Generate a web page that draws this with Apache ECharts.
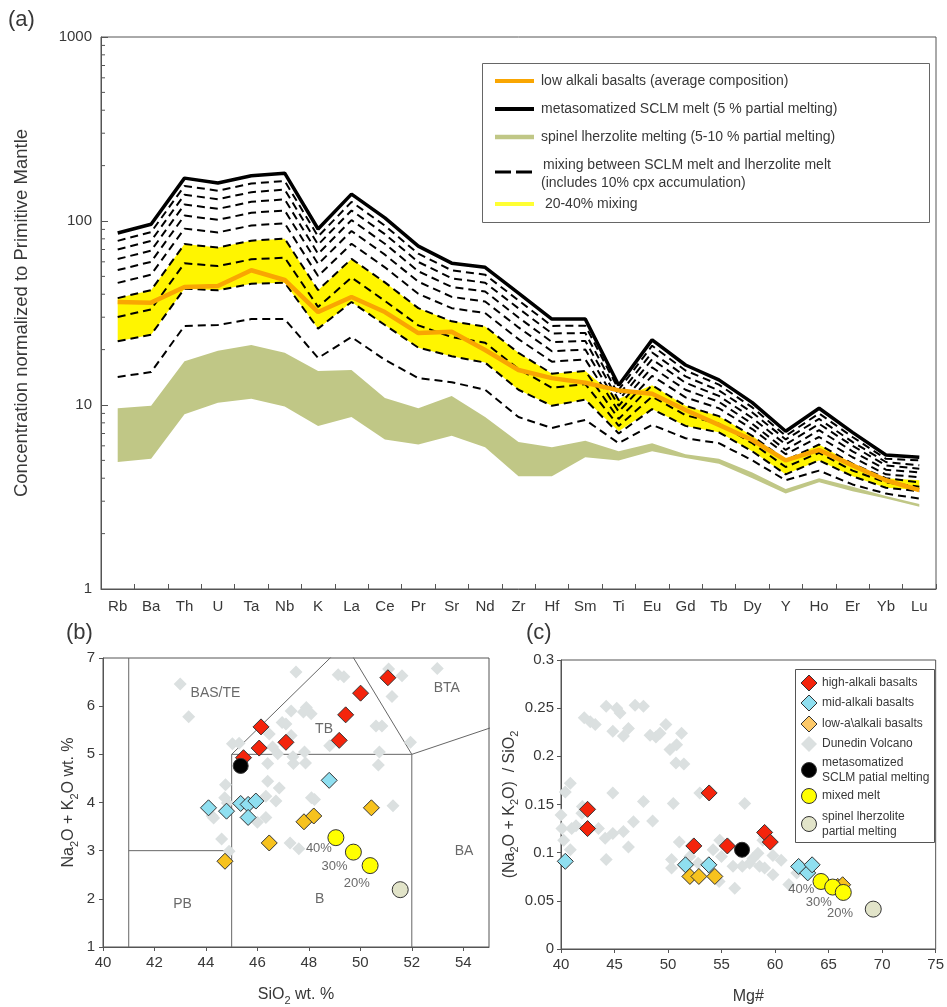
<!DOCTYPE html>
<html>
<head>
<meta charset="utf-8">
<script src="https://cdn.jsdelivr.net/npm/echarts@6/dist/echarts.min.js"></script>
<style>
  html, body { margin: 0; padding: 0; background: #fff; }
  #chart { width: 947px; height: 1007px; }
</style>
</head>
<body>
<div id="chart"></div>
<script>
// ---------- (a) spider diagram, normalized to primitive mantle ----------
const elements = ['Rb','Ba','Th','U','Ta','Nb','K','La','Ce','Pr','Sr','Nd','Zr','Hf','Sm','Ti','Eu','Gd','Tb','Dy','Y','Ho','Er','Yb','Lu'];

const sclmMelt      = [86, 96, 171, 161, 176, 182, 90.5, 140, 104, 73, 59, 56, 40.6, 29.3, 29.3, 12.8, 22.6, 16.5, 13.7, 10.3, 7.2, 9.6, 7.1, 5.35, 5.2];
const lowAlkaliAvg  = [36.3, 36, 43.8, 44.3, 54, 47.8, 32, 38.6, 32, 24.6, 25, 19.9, 15.5, 14, 13.2, 12.0, 11.5, 9.4, 7.8, 6.45, 5.0, 5.7, 4.7, 3.9, 3.45];
const lherzoliteMax = [9.6, 9.9, 17.3, 19.7, 21.2, 19.2, 15.3, 15.5, 10.9, 9.6, 11.2, 8.6, 6.3, 5.9, 6.4, 5.6, 6.2, 5.4, 5.1, 4.3, 3.5, 4.0, 3.6, 3.2, 2.9];
const lherzoliteMin = [4.9, 5.1, 8.9, 10.3, 10.8, 9.8, 7.7, 8.6, 6.5, 6.1, 6.8, 5.9, 4.1, 4.1, 5.2, 5.0, 5.6, 5.15, 4.8, 4.0, 3.3, 3.8, 3.4, 3.1, 2.8];
const mixingBandLow  = [22.2, 24.1, 42.9, 42.0, 45.6, 46.2, 26.0, 36.3, 27.2, 20.5, 18.4, 17.0, 12.1, 9.9, 10.7, 7.2, 9.5, 7.7, 7.1, 5.6, 4.2, 5.0, 4.1, 3.55, 3.45];
const mixingBandHigh = [38.1, 42.1, 74.9, 71.8, 78.2, 80.2, 42.1, 62.2, 46.4, 33.6, 28.5, 26.7, 19.2, 14.8, 15.3, 10.8, 12.8, 9.9, 8.7, 6.8, 5.0, 6.1, 4.8, 4.0, 3.9];

// mixing curves, labelled by the share of SCLM melt
const mix10 = [14.2, 15.1, 26.9, 27.2, 29.3, 29.3, 18.0, 23.4, 17.6, 14.0, 13.3, 12.1, 8.6, 7.5, 8.3, 6.2, 7.8, 6.6, 6.2, 5.0, 3.9, 4.4, 3.7, 3.3, 3.1];
const mix20 = [22.2, 24.1, 42.9, 42.0, 45.6, 46.2, 26.0, 36.3, 27.2, 20.5, 18.4, 17.0, 12.1, 9.9, 10.7, 7.0, 9.5, 7.7, 7.1, 5.6, 4.2, 5.0, 4.1, 3.55, 3.4];
const mix30 = [30.1, 33.1, 58.9, 56.9, 61.9, 63.2, 34.1, 49.3, 36.8, 27.1, 23.4, 21.8, 15.7, 12.4, 13.0, 7.7, 11.1, 8.8, 7.9, 6.2, 4.6, 5.5, 4.4, 3.8, 3.6];
const mix40 = [38.1, 42.1, 74.9, 71.8, 78.2, 80.2, 42.1, 62.2, 46.4, 33.6, 28.5, 26.7, 19.2, 14.8, 15.3, 8.4, 12.8, 9.9, 8.7, 6.8, 5.0, 6.1, 4.8, 4.0, 3.8];
const mix50 = [46.1, 51.1, 90.9, 86.7, 94.5, 97.2, 50.2, 75.2, 56.0, 40.2, 33.6, 31.6, 22.8, 17.2, 17.7, 9.2, 14.4, 11.0, 9.6, 7.4, 5.4, 6.7, 5.2, 4.2, 4.05];
const mix60 = [54.1, 60.0, 107, 101.5, 110.8, 114.1, 58.3, 88.2, 65.6, 46.8, 38.7, 36.5, 26.4, 19.6, 20.0, 9.9, 16.0, 12.1, 10.4, 7.9, 5.7, 7.3, 5.6, 4.45, 4.3];
const mix70 = [62.1, 69.0, 123, 116.4, 127.1, 131.1, 66.3, 101.1, 75.2, 53.3, 43.8, 41.4, 29.9, 22.0, 22.3, 10.6, 17.7, 13.2, 11.2, 8.5, 6.1, 7.9, 6.0, 4.7, 4.5];
const mix80 = [70.0, 78.0, 139, 131.3, 143.4, 148.1, 74.4, 114.1, 84.8, 59.9, 48.8, 46.2, 33.5, 24.5, 24.6, 11.3, 19.3, 14.3, 12.0, 9.1, 6.5, 8.4, 6.3, 4.9, 4.7];
const mix90 = [78.0, 87.0, 155, 146.1, 159.7, 165, 82.4, 127, 94.4, 66.4, 53.9, 51.1, 37.0, 26.9, 27.0, 12.1, 21.0, 15.4, 12.9, 9.7, 6.8, 9.0, 6.7, 5.1, 5.0];
const mixingCurves = [mix10, mix20, mix30, mix40, mix50, mix60, mix70, mix80, mix90];

const logMinorTicks = [2,3,4,5,6,7,8,9, 20,30,40,50,60,70,80,90, 200,300,400,500,600,700,800,900];

// ---------- (b) TAS diagram: [SiO2, Na2O+K2O] ----------
const tasHighAlkali = [[45.46,4.93],[46.14,5.57],[46.07,5.13],[47.11,5.25],[49.18,5.29],[49.43,5.82],[50.01,6.27],[51.07,6.59]];
const tasMidAlkali  = [[44.10,3.89],[44.80,3.82],[45.35,3.98],[45.64,3.96],[45.94,4.03],[45.64,3.69],[48.79,4.46]];
const tasLowAlkali  = [[44.74,2.78],[46.46,3.16],[47.81,3.60],[48.19,3.72],[50.43,3.89]];
const tasDunedin = [[43.0,6.46],[43.33,5.78],[45.29,5.23],[44.76,4.37],[44.73,4.10],[44.24,3.72],[44.61,3.24],[44.9,2.99],
  [47.5,6.71],[49.14,6.65],[49.36,6.61],[51.1,6.77],[51.62,6.63],[52.99,6.78],[51.23,6.2],[51.95,5.25],[47.31,5.9],[47.9,5.97],
  [48.09,5.84],[46.96,5.66],[47.11,5.63],[47.31,5.39],[46.46,5.42],[46.79,5.01],[46.4,4.81],[46.4,4.44],[46.85,4.3],[46.33,4.13],
  [46.72,4.03],[46.0,3.59],[46.33,3.69],[47.4,4.81],[47.83,5.05],[47.87,4.82],[48.22,4.06],[47.27,3.16],[47.61,3.04],[48.81,5.18],
  [50.61,5.59],[50.84,5.59],[50.74,5.05],[50.7,4.78],[51.27,3.93],[47.79,5.88],[46.59,5.15],[47.38,4.95],[45.03,5.22],[44.83,3.99],
  [44.3,3.68],[48.1,4.1]];
const tasSclmMelt   = [[45.35,4.76]];
const tasMixedMelt  = [[49.05,3.27],[49.73,2.97],[50.38,2.69]];
const tasLherzolite = [[51.55,2.19]];
const tasMixLabels  = [[48.39,3.04,'40%'],[49.0,2.67,'30%'],[49.86,2.31,'20%']];
const tasFieldLabels = [[44.37,6.27,'BAS/TE'],[48.59,5.52,'TB'],[53.36,6.37,'BTA'],[54.03,3.0,'BA'],[48.42,2.0,'B'],[43.09,1.9,'PB']];
const tasBoundaries = [
  [[41,1],[41,7]], [[41,3],[45,3]], [[45,1],[45,5]], [[45,5],[52,5]], [[52,1],[52,5]],
  [[45,5],[49.4,7.3]], [[52,5],[49.4,7.3]], [[52,5],[57,5.9]]
];

// ---------- (c) alkali/silica ratio vs Mg# ----------
const mgHighAlkali = [[42.48,0.145],[42.48,0.125],[52.41,0.107],[53.84,0.162],[55.54,0.107],[59.02,0.121],[59.55,0.111]];
const mgMidAlkali  = [[40.4,0.091],[51.63,0.0874],[53.81,0.0874],[62.2,0.0857],[63.05,0.079],[63.46,0.0874]];
const mgLowAlkali  = [[52.04,0.0753],[52.88,0.0753],[54.37,0.0753],[65.85,0.065],[66.31,0.0667]];
const mgDunedin = [[40.0,0.139],[40.09,0.125],[40.25,0.113],[40.87,0.103],[40.4,0.163],[40.87,0.172],[41.0,0.125],[41.95,0.141],
  [42.17,0.240],[42.73,0.236],[43.2,0.233],[44.22,0.252],[45.21,0.250],[45.52,0.245],[44.84,0.226],[45.83,0.221],[46.3,0.229],
  [46.92,0.253],[47.7,0.252],[48.32,0.222],[48.87,0.220],[49.25,0.224],[49.8,0.233],[50.18,0.207],[50.8,0.212],[51.26,0.224],
  [50.74,0.193],[51.48,0.192],[44.84,0.162],[47.7,0.153],[48.56,0.133],[46.77,0.132],[45.83,0.122],[44.84,0.120],[44.13,0.115],
  [46.3,0.106],[44.22,0.093],[50.49,0.151],[52.97,0.162],[57.16,0.151],[51.05,0.111],[50.33,0.093],[50.33,0.084],[52.04,0.096],
  [52.81,0.089],[54.21,0.103],[54.83,0.113],[54.99,0.096],[56.07,0.086],[56.94,0.086],[57.62,0.089],[57.93,0.094],[58.55,0.086],
  [59.02,0.084],[58.4,0.0995],[58.86,0.113],[59.8,0.097],[60.57,0.092],[59.8,0.077],[54.77,0.070],[56.23,0.063],[54.21,0.079],
  [61.28,0.067],[62.03,0.079],[62.5,0.085],[59.0,0.117],[42.0,0.148],[43.5,0.125],[41.4,0.128]];
const mgSclmMelt   = [[56.91,0.103]];
const mgMixedMelt  = [[64.29,0.0701],[65.38,0.0643],[66.37,0.0587]];
const mgLherzolite = [[69.17,0.0414]];
const mgMixLabels  = [[62.44,0.0615,'40%'],[64.08,0.0484,'30%'],[66.06,0.0366,'20%']];

// ---------- styling ----------
const FONT = "'Liberation Sans', Arial, sans-serif";
const TXT = '#383838';
const AX = '#555';
const C_HIGH = '#f4240c', C_MID = '#8fdff0', C_LOW = '#f7c21e', C_DUN = '#dbe0e0';
const C_SCLM = '#000', C_MIXED = '#ffff00', C_LHZ = '#e2e4c9';
const C_ORANGE = '#f9a602', C_YELLOW = '#fff500', C_GREEN = '#c0c786';

const subRich = {
  n: { fontSize: 16, lineHeight: 22, color: TXT, fontFamily: FONT },
  s: { fontSize: 11, lineHeight: 11, verticalAlign: 'bottom', color: TXT, fontFamily: FONT }
};

function bandSeries(low, high, color, z) {
  return {
    type: 'custom', xAxisIndex: 0, yAxisIndex: 0, silent: true, z: z,
    data: [[0, high[0]]],
    renderItem: function (params, api) {
      const pts = [];
      for (let i = 0; i < high.length; i++) pts.push(api.coord([i, high[i]]));
      for (let i = low.length - 1; i >= 0; i--) pts.push(api.coord([i, low[i]]));
      return { type: 'polygon', shape: { points: pts }, style: { fill: color } };
    }
  };
}

function pointSeries(data, ax, symbol, size, color, border, z) {
  return {
    type: 'scatter', xAxisIndex: ax, yAxisIndex: ax, data: data, symbol: symbol, symbolSize: size,
    silent: true, z: z,
    itemStyle: { color: color, borderColor: border ? '#333' : 'transparent', borderWidth: border ? 1 : 0, opacity: 1 }
  };
}

function textSeries(data, ax, size, color) {
  return {
    type: 'scatter', xAxisIndex: ax, yAxisIndex: ax, symbolSize: 0, silent: true, z: 20,
    data: data.map(d => ({ value: [d[0], d[1]], name: d[2] })),
    label: { show: true, position: 'inside', formatter: '{b}', fontSize: size, color: color, fontFamily: FONT }
  };
}

const series = [];
// (a)
series.push(bandSeries(lherzoliteMin, lherzoliteMax, C_GREEN, 1));
series.push(bandSeries(mixingBandLow, mixingBandHigh, C_YELLOW, 2));
mixingCurves.forEach(arr => series.push({
  type: 'line', xAxisIndex: 0, yAxisIndex: 0, data: arr, symbol: 'none', silent: true, z: 3,
  lineStyle: { color: '#000', width: 2, type: [8, 5] }
}));
series.push({ type: 'line', xAxisIndex: 0, yAxisIndex: 0, data: sclmMelt, symbol: 'none', silent: true, z: 4,
  lineStyle: { color: '#000', width: 3.5 } });
series.push({ type: 'line', xAxisIndex: 0, yAxisIndex: 0, data: lowAlkaliAvg, symbol: 'none', silent: true, z: 5,
  lineStyle: { color: C_ORANGE, width: 4.5 } });
series.push({
  type: 'custom', xAxisIndex: 0, yAxisIndex: 0, silent: true, z: 10,
  data: logMinorTicks.map(v => [0, v]),
  renderItem: function (params, api) {
    const y = api.coord([0, api.value(1)])[1];
    const x0 = params.coordSys.x;
    return { type: 'line', shape: { x1: x0, y1: y, x2: x0 + 4, y2: y }, style: { stroke: AX, lineWidth: 1 } };
  }
});
// (b)
tasBoundaries.forEach(seg => series.push({
  type: 'line', xAxisIndex: 1, yAxisIndex: 1, data: seg, symbol: 'none', silent: true, z: 1,
  lineStyle: { color: '#666', width: 1 }
}));
series.push(pointSeries(tasDunedin, 1, 'diamond', 13, C_DUN, false, 2));
series.push(pointSeries(tasMidAlkali, 1, 'diamond', 16, C_MID, true, 3));
series.push(pointSeries(tasLowAlkali, 1, 'diamond', 16, C_LOW, true, 3));
series.push(pointSeries(tasHighAlkali, 1, 'diamond', 16, C_HIGH, true, 4));
series.push(pointSeries(tasSclmMelt, 1, 'circle', 15, C_SCLM, true, 5));
series.push(pointSeries(tasMixedMelt, 1, 'circle', 16, C_MIXED, true, 5));
series.push(pointSeries(tasLherzolite, 1, 'circle', 16, C_LHZ, true, 5));
series.push(textSeries(tasMixLabels, 1, 13, '#444'));
series.push(textSeries(tasFieldLabels, 1, 14, '#444'));
// (c)
series.push(pointSeries(mgDunedin, 2, 'diamond', 13, C_DUN, false, 2));
series.push(pointSeries(mgMidAlkali, 2, 'diamond', 16, C_MID, true, 3));
series.push(pointSeries(mgLowAlkali, 2, 'diamond', 16, C_LOW, true, 3));
series.push(pointSeries(mgHighAlkali, 2, 'diamond', 16, C_HIGH, true, 4));
series.push(pointSeries(mgSclmMelt, 2, 'circle', 15, C_SCLM, true, 5));
series.push(pointSeries(mgMixedMelt, 2, 'circle', 16, C_MIXED, true, 5));
series.push(pointSeries(mgLherzolite, 2, 'circle', 16, C_LHZ, true, 5));
series.push(textSeries(mgMixLabels, 2, 13, '#444'));

const labelStyle = (size, margin) => ({ fontSize: size, color: TXT, fontFamily: FONT, margin: margin });
const axisLine = { show: true, onZero: false, lineStyle: { color: AX, width: 1 } };

// panel letters and legend graphics
const graphics = [];
function gText(x, y, text, size) {
  graphics.push({ type: 'text', x: x, y: y, style: { text: text, fontSize: size, fontFamily: FONT, fill: TXT, verticalAlign: 'middle' } });
}
gText(8, 20, '(a)', 22);
gText(66, 633, '(b)', 22);
gText(526, 633, '(c)', 22);

// (a) legend
graphics.push({ type: 'rect', shape: { x: 482.5, y: 63.5, width: 447, height: 159 }, style: { fill: '#fff', stroke: '#666', lineWidth: 1 }, z: 50 });
const legA = [
  { y: 81, color: C_ORANGE, width: 4, dash: null, text: 'low alkali basalts (average composition)' },
  { y: 109, color: '#000', width: 4, dash: null, text: 'metasomatized SCLM melt (5 % partial melting)' },
  { y: 137, color: C_GREEN, width: 4.5, dash: null, text: 'spinel lherzolite melting (5-10 % partial melting)' },
  { y: 172, color: '#000', width: 3, dash: [16, 5], text: null },
  { y: 204, color: '#ffff33', width: 4, dash: null, text: ' 20-40% mixing' }
];
legA.forEach(e => {
  graphics.push({ type: 'line', z: 51, shape: { x1: 495, y1: e.y, x2: 534, y2: e.y },
    style: { stroke: e.color, lineWidth: e.width, lineDash: e.dash || null } });
  if (e.text) graphics.push({ type: 'text', z: 51, x: 541, y: e.y, style: { text: e.text, fontSize: 14, fontFamily: FONT, fill: TXT, verticalAlign: 'middle' } });
});
graphics.push({ type: 'text', z: 51, x: 543, y: 165, style: { text: 'mixing between SCLM melt and lherzolite melt', fontSize: 14, fontFamily: FONT, fill: TXT, verticalAlign: 'middle' } });
graphics.push({ type: 'text', z: 51, x: 541, y: 183, style: { text: '(includes 10% cpx accumulation)', fontSize: 14, fontFamily: FONT, fill: TXT, verticalAlign: 'middle' } });

// (c) legend
graphics.push({ type: 'rect', z: 50, shape: { x: 795.5, y: 669.5, width: 139, height: 173 }, style: { fill: '#fff', stroke: '#555', lineWidth: 1 } });
function legSym(kind, y, color, border) {
  const cx = 809;
  if (kind === 'diamond') {
    graphics.push({ type: 'polygon', z: 51, shape: { points: [[cx, y - 8], [cx + 8, y], [cx, y + 8], [cx - 8, y]] },
      style: { fill: color, stroke: border ? '#333' : null, lineWidth: 1 } });
  } else {
    graphics.push({ type: 'circle', z: 51, shape: { cx: cx, cy: y, r: 7.5 }, style: { fill: color, stroke: '#333', lineWidth: 1 } });
  }
}
function legText(y, text) {
  graphics.push({ type: 'text', z: 51, x: 822, y: y, style: { text: text, fontSize: 12, fontFamily: FONT, fill: TXT, verticalAlign: 'middle' } });
}
legSym('diamond', 683, C_HIGH, true); legText(683, 'high-alkali basalts');
legSym('diamond', 703, C_MID, true); legText(703, 'mid-alkali basalts');
legSym('diamond', 724, '#fdc96a', true); legText(724, 'low-a\\alkali basalts');
legSym('diamond', 744, C_DUN, false); legText(744, 'Dunedin Volcano');
legSym('circle', 770, C_SCLM); legText(763, 'metasomatized'); legText(778, 'SCLM patial melting');
legSym('circle', 796, C_MIXED); legText(796, 'mixed melt');
legSym('circle', 824, C_LHZ); legText(817, 'spinel lherzolite'); legText(832, 'partial melting');

const option = {
  animation: false,
  backgroundColor: '#fff',
  textStyle: { fontFamily: FONT },
  grid: [
    { left: 101, top: 37, width: 835, height: 552, show: true, borderColor: AX, borderWidth: 1, backgroundColor: 'transparent' },
    { left: 103, top: 658, width: 386, height: 294, show: true, borderColor: AX, borderWidth: 1, backgroundColor: 'transparent' },
    { left: 561, top: 660, width: 376, height: 289, show: true, borderColor: AX, borderWidth: 1, backgroundColor: 'transparent' }
  ],
  xAxis: [
    { type: 'category', gridIndex: 0, data: elements, boundaryGap: true,
      axisLine: axisLine, axisTick: { show: true, inside: true, length: 5, lineStyle: { color: AX } },
      axisLabel: labelStyle(15, 10), splitLine: { show: false } },
    { type: 'value', gridIndex: 1, min: 40, max: 55, interval: 2,
      axisLine: axisLine, axisTick: { show: true, length: 4, lineStyle: { color: AX } },
      axisLabel: Object.assign(labelStyle(15, 8), { showMaxLabel: false }), splitLine: { show: false },
      name: '{n|SiO}{s|2}{n| wt. %}', nameLocation: 'middle', nameGap: 37,
      nameTextStyle: { rich: subRich } },
    { type: 'value', gridIndex: 2, min: 40, max: 75, interval: 5,
      axisLine: axisLine, axisTick: { show: true, length: 4, lineStyle: { color: AX } },
      axisLabel: labelStyle(15, 8), splitLine: { show: false },
      name: 'Mg#', nameLocation: 'middle', nameGap: 40,
      nameTextStyle: { fontSize: 16, color: TXT, fontFamily: FONT } }
  ],
  yAxis: [
    { type: 'log', gridIndex: 0, min: 1, max: 1000, logBase: 10,
      axisLine: axisLine, axisTick: { show: true, inside: true, length: 7, lineStyle: { color: AX } },
      axisLabel: Object.assign(labelStyle(15, 9), { formatter: v => String(Math.round(v)) }), splitLine: { show: false },
      name: 'Concentration normalized to Primitive Mantle', nameLocation: 'middle', nameGap: 70, nameRotate: 90,
      nameTextStyle: { fontSize: 18.5, color: TXT, fontFamily: FONT } },
    { type: 'value', gridIndex: 1, min: 1, max: 7, interval: 1,
      axisLine: axisLine, axisTick: { show: true, length: 4, lineStyle: { color: AX } },
      axisLabel: labelStyle(15, 8), splitLine: { show: false },
      name: '{n|Na}{s|2}{n|O + K}{s|2}{n|O wt. %}', nameLocation: 'middle', nameGap: 23, nameRotate: 90,
      nameTextStyle: { rich: subRich } },
    { type: 'value', gridIndex: 2, min: 0, max: 0.3, interval: 0.05,
      axisLine: axisLine, axisTick: { show: true, length: 4, lineStyle: { color: AX } },
      axisLabel: Object.assign(labelStyle(15, 7), { formatter: v => String(+v.toFixed(2)) }), splitLine: { show: false },
      name: '{n|(Na}{s|2}{n|O + K}{s|2}{n|O)  / SiO}{s|2}', nameLocation: 'middle', nameGap: 32, nameRotate: 90,
      nameTextStyle: { rich: subRich } }
  ],
  series: series,
  graphic: graphics
};

const chart = echarts.init(document.getElementById('chart'), null, { renderer: 'canvas', width: 947, height: 1007 });
chart.setOption(option);
</script>
</body>
</html>
